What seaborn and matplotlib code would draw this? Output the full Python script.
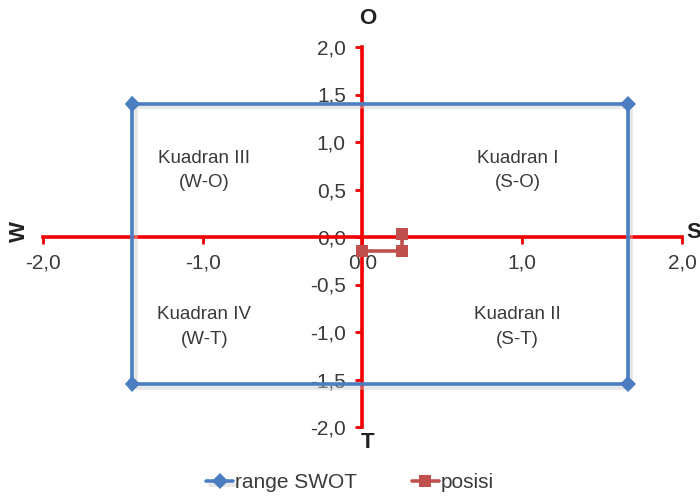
import matplotlib
matplotlib.use("Agg")
import matplotlib.pyplot as plt
import matplotlib.patheffects as pe
import seaborn as sns
import numpy as np

# data
range_x = [-1.44, 1.66, 1.66, -1.44, -1.44]
range_y = [1.40, 1.40, -1.55, -1.55, 1.40]
posisi_x = [0.0, 0.25, 0.25]
posisi_y = [-0.15, -0.15, 0.03]
x_ticks = [-2.0, -1.0, 0.0, 1.0, 2.0]
y_ticks = [-2.0, -1.5, -1.0, -0.5, 0.0, 0.5, 1.0, 1.5, 2.0]
quadrants = ["Kuadran I\n(S-O)", "Kuadran II\n(S-T)", "Kuadran III\n(W-O)", "Kuadran IV\n(W-T)"]
quad_x = [0.97, 0.97, -0.99, -0.99]
quad_y = [0.70, -0.95, 0.70, -0.95]

sns.set_style("white")
plt.rcParams['font.family'] = ['Liberation Sans', 'DejaVu Sans']

fig = plt.figure(figsize=(7, 5), dpi=100)
ax = fig.add_axes([43 / 700, 1 - 427 / 500, (682 - 43) / 700, (427 - 47) / 500])

blue = "#4A7EC0"
red_ax = "#F00000"
red_pt = "#C0504D"
txt = "#3a3a3a"
shadow = [pe.SimpleLineShadow(offset=(2.5, -2.5), shadow_color="#c8c8c8", alpha=0.45), pe.Normal()]

sns.lineplot(x=range_x, y=range_y, sort=False, estimator=None, ax=ax, color=blue,
             linewidth=2.6, marker="D", markersize=8, markeredgewidth=0,
             label="range SWOT", zorder=3, path_effects=shadow)
sns.lineplot(x=posisi_x, y=posisi_y, sort=False, estimator=None, ax=ax, color=red_pt,
             linewidth=2.6, marker="s", markersize=9, markeredgewidth=0,
             label="posisi", zorder=4)

ax.set_xlim(-2, 2)
ax.set_ylim(-2, 2)
for s in ["left", "bottom"]:
    ax.spines[s].set_position(("data", 0))
    ax.spines[s].set_color(red_ax)
    ax.spines[s].set_linewidth(2.6)
    ax.spines[s].set_zorder(2)
ax.spines["right"].set_visible(False)
ax.spines["top"].set_visible(False)

ax.set_xticks(x_ticks)
ax.set_yticks(y_ticks)
ax.set_xticklabels([f"{v:.1f}".replace(".", ",") for v in x_ticks])
ax.set_yticklabels([f"{v:.1f}".replace(".", ",") for v in y_ticks])
ax.tick_params(axis="both", direction="out", length=5, width=2, color=red_ax,
               labelsize=15, labelcolor=txt, pad=7)
ax.xaxis.set_ticks_position("bottom")
ax.yaxis.set_ticks_position("left")

for lab, qx, qy in zip(quadrants, quad_x, quad_y):
    ax.text(qx, qy, lab, ha="center", va="center", fontsize=13.5, color=txt,
            linespacing=1.6)

# axis end letters
fig.text(368 / 700, 1 - 19 / 500, "O", ha="center", va="center", fontsize=16, fontweight="bold", color="#222222")
fig.text(368 / 700, 1 - 442 / 500, "T", ha="center", va="center", fontsize=16, fontweight="bold", color="#222222")
fig.text(19 / 700, 1 - 232 / 500, "W", ha="center", va="center", fontsize=16, fontweight="bold", color="#222222", rotation=90)
fig.text(694 / 700, 1 - 232 / 500, "S", ha="center", va="center", fontsize=16, fontweight="bold", color="#222222")

ax.legend(loc="center", bbox_to_anchor=(0.5, 0.034), bbox_transform=fig.transFigure,
          ncol=2, frameon=False, fontsize=15, handlelength=1.3, handletextpad=0.1,
          columnspacing=2.6, labelcolor=txt)

fig.savefig("out.png", dpi=100)
